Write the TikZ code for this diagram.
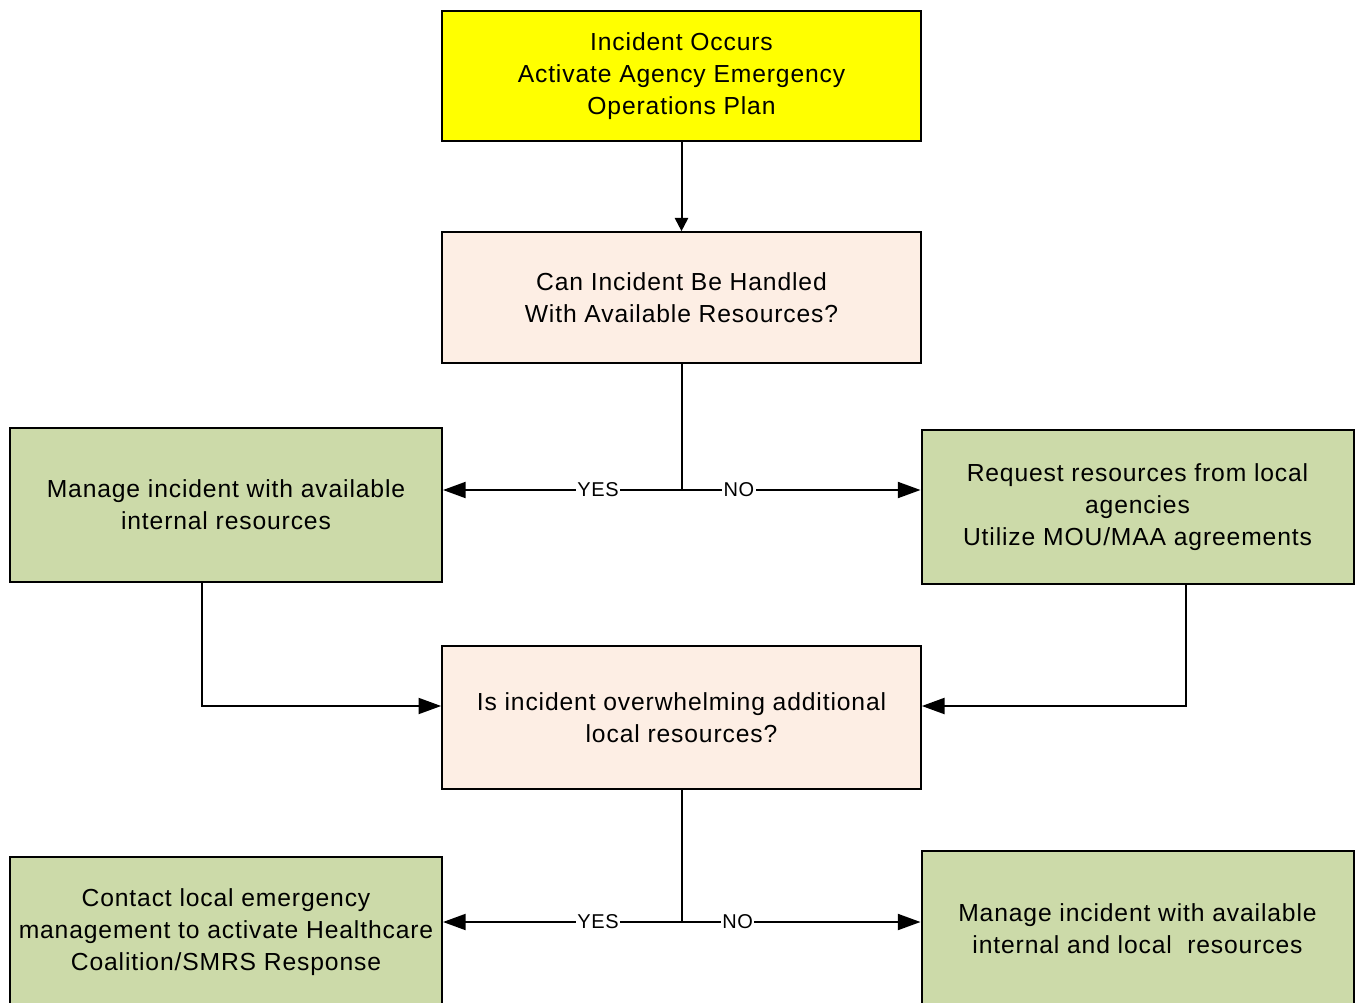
\documentclass[tikz,border=0pt]{standalone}
\usepackage{fontspec}
\setmainfont[LetterSpace=3.5]{Liberation Sans}
\usetikzlibrary{arrows.meta}

\definecolor{planyellow}{HTML}{FFFF00}
\definecolor{askpeach}{HTML}{FDEEE4}
\definecolor{actgreen}{HTML}{CCDAA9}

\tikzset{
  box/.style={draw,line width=1.5pt,inner sep=0pt,align=center,
    font=\fontsize{18.5}{24}\selectfont},
  planbox/.style={box,fill=planyellow,minimum width=359pt},
  askbox/.style={box,fill=askpeach,minimum width=359pt},
  actbox/.style={box,fill=actgreen,minimum width=324pt},
  arr/.style={line width=1.5pt,-{Triangle[length=17pt,width=12pt]}},
  down/.style={line width=1.5pt,-{Triangle[length=10pt,width=10pt]}},
  link/.style={line width=1.5pt},
  tag/.style={fill=white,inner sep=1pt,font=\fontsize{15}{18}\selectfont}
}

\begin{document}
\begin{tikzpicture}[x=0.75pt,y=-0.75pt]
  \useasboundingbox (0,0) rectangle (1355,1002);

  \node (start) at (681.5,76) [planbox,minimum height=97.5pt]
    {Incident Occurs\\Activate Agency Emergency\\Operations Plan};
  \node (ask1) at (681.5,297.5) [askbox,minimum height=98pt]
    {Can Incident Be Handled\\With Available Resources?};
  \node (own) at (226,505) [actbox,minimum height=115.5pt]
    {Manage incident with available\\internal resources};
  \node (help) at (1137.5,507) [actbox,minimum height=115.5pt]
    {Request resources from local\\agencies\\Utilize MOU/MAA agreements};
  \node (ask2) at (681.5,717.5) [askbox,minimum height=107pt]
    {Is incident overwhelming additional\\local resources?};
  \node (smrs) at (226,932) [actbox,minimum height=112.5pt]
    {Contact local emergency\\management to activate Healthcare\\Coalition/SMRS Response};
  \node (local) at (1137.5,929) [actbox,minimum height=117pt]
    {Manage incident with available\\internal and local\ \ resources};

  \coordinate (split1) at (681.5,490);
  \coordinate (split2) at (681.5,922);
  \coordinate (joinL) at (202,706);
  \coordinate (joinR) at (1186,706);

  \draw[down] (start) -- (ask1);

  \draw[link] (ask1) -- (split1);
  \draw[arr] (split1) -- node[tag,pos=0.35] {YES} (split1 -| own.east);
  \draw[arr] (split1) -- node[tag,pos=0.24] {NO} (split1 -| help.west);

  \draw[arr] (own.south -| joinL) |- (ask2.west |- joinL);
  \draw[arr] (help.south -| joinR) |- (ask2.east |- joinR);

  \draw[link] (ask2) -- (split2);
  \draw[arr] (split2) -- node[tag,pos=0.35] {YES} (split2 -| smrs.east);
  \draw[arr] (split2) -- node[tag,pos=0.235] {NO} (split2 -| local.west);
\end{tikzpicture}
\end{document}
